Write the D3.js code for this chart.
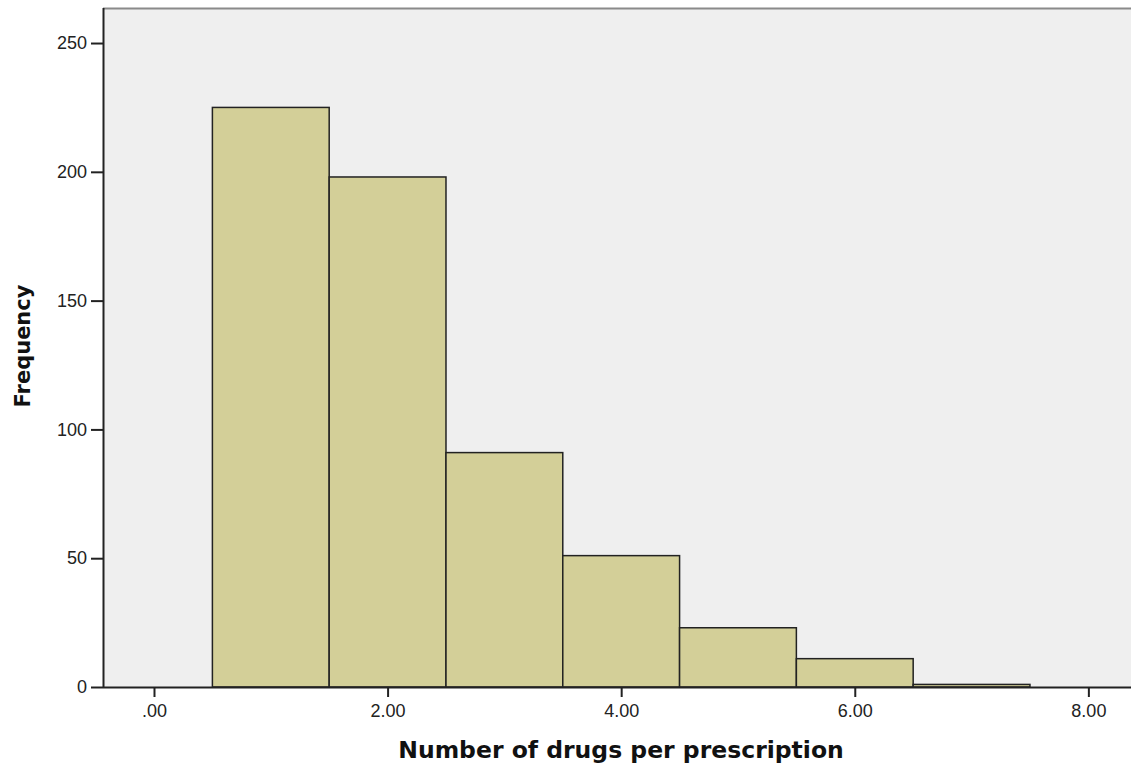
<!DOCTYPE html>
<html><head><meta charset="utf-8">
<script src="https://cdn.jsdelivr.net/npm/d3@7"></script>
<style>body{margin:0;background:#fff;}svg{display:block;}</style>
</head><body>
<svg id="c" width="1131" height="764"></svg>
<script>
const binStarts = [0.5, 1.5, 2.5, 3.5, 4.5, 5.5, 6.5];
const binEnds = [1.5, 2.5, 3.5, 4.5, 5.5, 6.5, 7.5];
const frequencies = [225, 198, 91, 51, 23, 11, 1];
const xTicks = [0, 2, 4, 6, 8];
const yTicks = [0, 50, 100, 150, 200, 250];
const xTitle = "Number of drugs per prescription";
const yTitle = "Frequency";

const svg = d3.select("#c");
const L = 103, R = 1131, T = 8, B = 687;
const x = d3.scaleLinear().domain([-0.4366, 8.365]).range([L, R]);
const y = d3.scaleLinear().domain([0, 263.6]).range([B, T]);

svg.append("rect").attr("x", L).attr("y", T).attr("width", R - L).attr("height", B - T).attr("fill", "#efefef");
svg.append("line").attr("x1", L).attr("x2", R).attr("y1", T + 0.5).attr("y2", T + 0.5).attr("stroke", "#8a8a8a").attr("stroke-width", 2);

svg.append("g").selectAll("rect").data(frequencies).join("rect")
  .attr("x", (d, i) => x(binStarts[i]))
  .attr("width", (d, i) => x(binEnds[i]) - x(binStarts[i]))
  .attr("y", d => y(d))
  .attr("height", d => y(0) - y(d))
  .attr("fill", "#d3cf98").attr("stroke", "#222").attr("stroke-width", 1.5);

const fontF = "Arial, 'Liberation Sans', sans-serif";
const gx = svg.append("g").attr("transform", `translate(0,${B})`)
  .call(d3.axisBottom(x).tickValues(xTicks).tickSize(10).tickPadding(7)
    .tickFormat(d => d === 0 ? ".00" : d3.format(".2f")(d)));
gx.select(".domain").attr("d", `M${L},0.5H${R}`).attr("stroke", "#222").attr("stroke-width", 2);
gx.selectAll(".tick line").attr("stroke", "#222").attr("stroke-width", 2);
gx.selectAll("text").attr("font-family", fontF).attr("font-size", 18).attr("fill", "#222");

const gy = svg.append("g").attr("transform", `translate(${L},0)`)
  .call(d3.axisLeft(y).tickValues(yTicks).tickSize(12).tickPadding(4));
gy.select(".domain").attr("d", `M0.5,${T}V${B}`).attr("stroke", "#222").attr("stroke-width", 2);
gy.selectAll(".tick line").attr("stroke", "#222").attr("stroke-width", 2);
gy.selectAll("text").attr("font-family", fontF).attr("font-size", 18).attr("fill", "#222");

svg.append("text").attr("x", 621).attr("y", 758).attr("text-anchor", "middle")
  .attr("font-family", "'DejaVu Sans', Verdana, sans-serif").attr("font-weight", "bold").attr("font-size", 23.5)
  .attr("fill", "#111").text(xTitle);
svg.append("text").attr("transform", "translate(30,346) rotate(-90)").attr("text-anchor", "middle")
  .attr("font-family", "'DejaVu Sans', Verdana, sans-serif").attr("font-weight", "bold").attr("font-size", 21)
  .attr("fill", "#111").text(yTitle);
</script>
</body></html>
